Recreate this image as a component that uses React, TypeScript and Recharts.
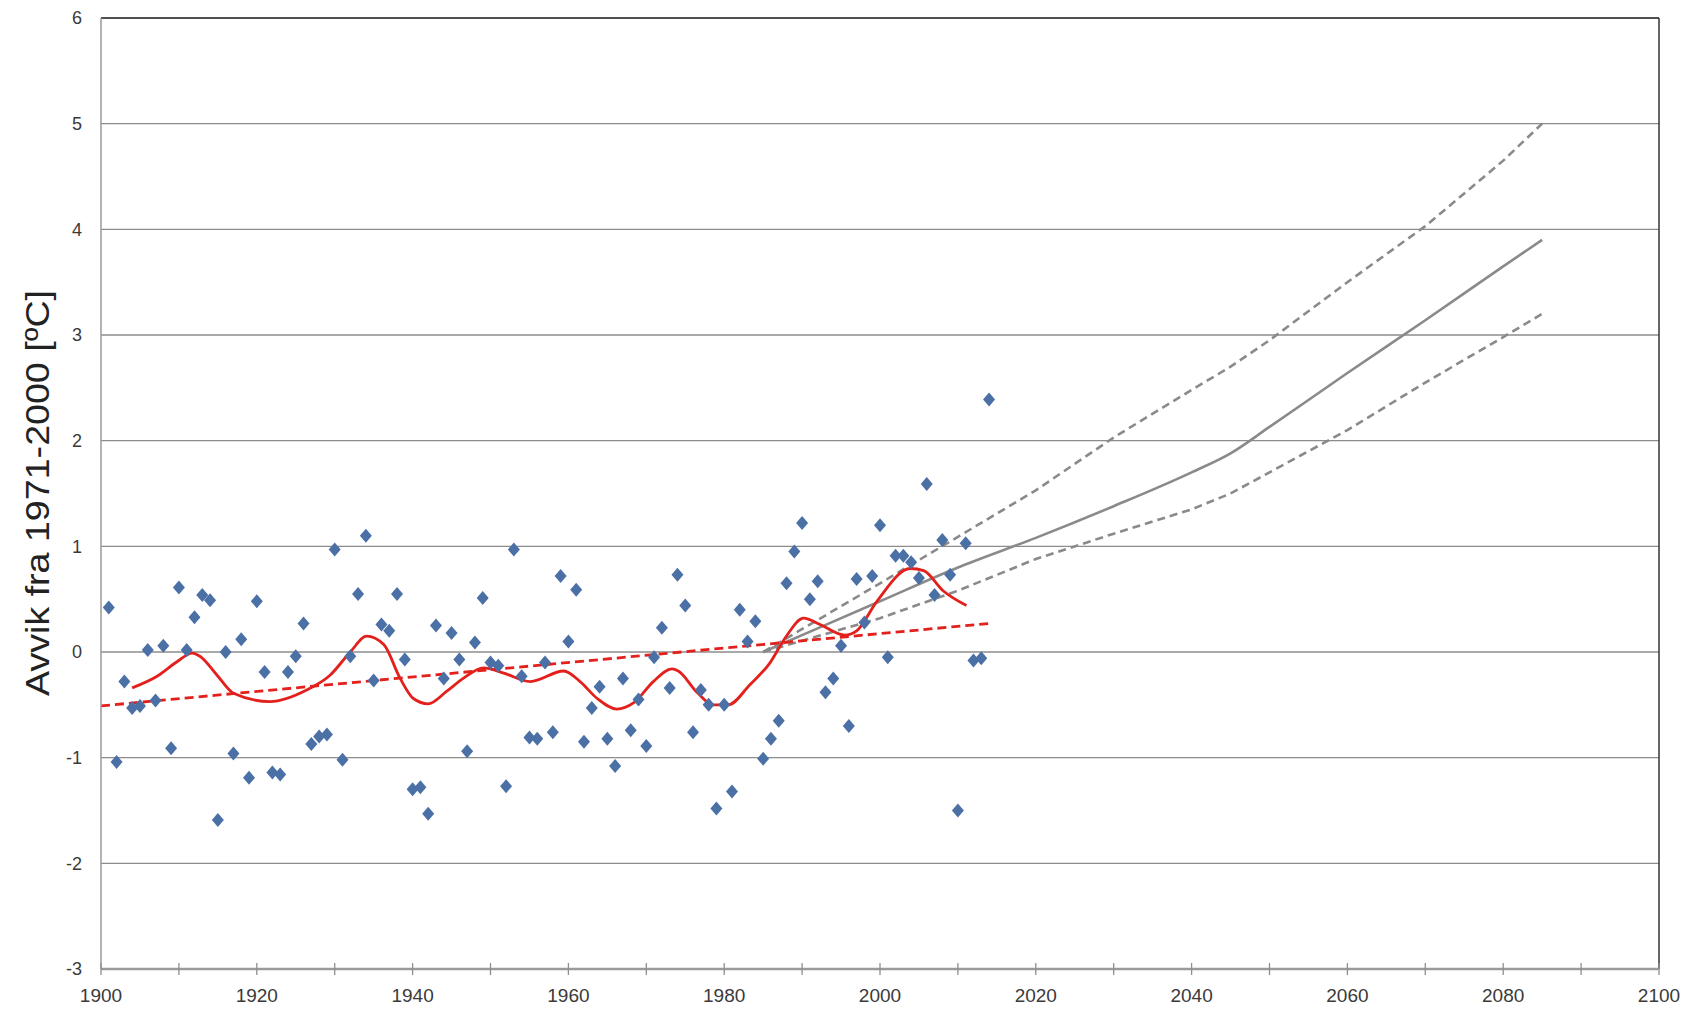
import React from 'react';
import {
  ComposedChart, Scatter, Line, XAxis, YAxis, CartesianGrid, ReferenceLine,
} from 'recharts';

// annual temperature anomaly, 1901-2014
const firstYear = 1901;
const anomaly = [
  0.42, -1.04, -0.28, -0.53, -0.51, 0.02, -0.46, 0.06, -0.91, 0.61,
  0.02, 0.33, 0.54, 0.49, -1.59, 0.0, -0.96, 0.12, -1.19, 0.48,
  -0.19, -1.14, -1.16, -0.19, -0.04, 0.27, -0.87, -0.8, -0.78, 0.97,
  -1.02, -0.04, 0.55, 1.1, -0.27, 0.26, 0.2, 0.55, -0.07, -1.3,
  -1.28, -1.53, 0.25, -0.25, 0.18, -0.07, -0.94, 0.09, 0.51, -0.1,
  -0.13, -1.27, 0.97, -0.23, -0.81, -0.82, -0.1, -0.76, 0.72, 0.1,
  0.59, -0.85, -0.53, -0.33, -0.82, -1.08, -0.25, -0.74, -0.45, -0.89,
  -0.05, 0.23, -0.34, 0.73, 0.44, -0.76, -0.36, -0.5, -1.48, -0.5,
  -1.32, 0.4, 0.1, 0.29, -1.01, -0.82, -0.65, 0.65, 0.95, 1.22,
  0.5, 0.67, -0.38, -0.25, 0.06, -0.7, 0.69, 0.28, 0.72, 1.2,
  -0.05, 0.91, 0.91, 0.85, 0.7, 1.59, 0.54, 1.06, 0.73, -1.5,
  1.03, -0.08, -0.06, 2.39,
];

// smoothed curve
const smoothYears = [
  1904, 1907.2, 1909.8, 1911.7, 1912.7, 1914.9, 1917, 1921.7, 1926.4, 1929.4,
  1932, 1934.1, 1936.3, 1938.4, 1940.1, 1942, 1944.4, 1946.5, 1949.1, 1951.7,
  1955.1, 1959.4, 1961.5, 1963.7, 1966.2, 1968.4, 1970.9, 1973.3, 1974.1, 1976.5,
  1978.6, 1980.5, 1983.3, 1985.9, 1987.8, 1990.2, 1992.3, 1995.5, 1997, 1999.6,
  2003.9, 2005.6, 2008.1, 2011.1,
];
const smoothValues = [
  -0.34, -0.23, -0.09, -0.01, -0.04, -0.22, -0.39, -0.47, -0.36, -0.22,
  0.0, 0.15, 0.07, -0.25, -0.44, -0.49, -0.37, -0.25, -0.15, -0.2,
  -0.28, -0.18, -0.28, -0.44, -0.54, -0.48, -0.28, -0.16, -0.18, -0.38,
  -0.5, -0.5, -0.31, -0.1, 0.13, 0.32, 0.26, 0.16, 0.2, 0.48,
  0.79, 0.77, 0.58, 0.44,
];

// linear trend
const trendYears = [1900, 2014];
const trendValues = [-0.51, 0.27];

// projections
const projYears = [1985, 2000, 2010, 2020, 2030, 2040, 2045, 2050, 2060, 2070, 2080, 2085];
const projMid = [0, 0.48, 0.8, 1.08, 1.38, 1.7, 1.88, 2.13, 2.64, 3.14, 3.65, 3.9];
const projHigh = [0, 0.65, 1.09, 1.53, 2.03, 2.48, 2.7, 2.95, 3.5, 4.03, 4.65, 5.0];
const projLow = [0, 0.32, 0.58, 0.88, 1.12, 1.35, 1.5, 1.7, 2.1, 2.55, 2.98, 3.2];

const xTicks = [1900, 1910, 1920, 1930, 1940, 1950, 1960, 1970, 1980, 1990, 2000,
  2010, 2020, 2030, 2040, 2050, 2060, 2070, 2080, 2090, 2100];
const yTicks = [-3, -2, -1, 0, 1, 2, 3, 4, 5, 6];

const scatterData = anomaly.map((v, i) => ({ year: firstYear + i, obs: v }));
const smoothData = smoothYears.map((y, i) => ({ year: y, smooth: smoothValues[i] }));
const trendData = trendYears.map((y, i) => ({ year: y, trend: trendValues[i] }));
const projData = projYears.map((y, i) => ({
  year: y, mid: projMid[i], high: projHigh[i], low: projLow[i],
}));

const font = "'Liberation Sans', Arial, sans-serif";
const X_TICK_GAP = 20;

const Diamond = (props: any) => {
  const { cx, cy } = props;
  if (cx == null || cy == null) return null;
  return (
    <polygon
      points={`${cx},${cy - 7} ${cx + 6},${cy} ${cx},${cy + 7} ${cx - 6},${cy}`}
      fill="#4a70a6"
    />
  );
};

// cross-style tick mark, label every 20 years
const XTick = (props: any) => {
  const { x, y, payload } = props;
  const axisY = y - X_TICK_GAP;
  const v = payload.value;
  return (
    <g>
      <line x1={x} x2={x} y1={axisY - 6} y2={axisY + 6} stroke="#8f8f8f" strokeWidth={1.3} />
      {v % 20 === 0 && (
        <text
          x={x}
          y={y}
          dy="0.71em"
          textAnchor="middle"
          fontSize={19}
          fontFamily={font}
          fill="#3a3a3a"
        >
          {v}
        </text>
      )}
    </g>
  );
};

const YLabel = () => (
  <text
    x={49}
    y={493}
    transform="rotate(-90 49 493)"
    textAnchor="middle"
    fontFamily="'Liberation Sans Narrow', 'Liberation Sans', Arial, sans-serif"
    fontSize={34}
    fill="#222"
    textLength={406}
    lengthAdjust="spacingAndGlyphs"
  >
    Avvik fra 1971-2000 [ºC]
  </text>
);

export default function App() {
  return (
    <div style={{ position: 'absolute', left: 0, top: 0, background: '#fff' }}>
      <ComposedChart
        width={1697}
        height={1010}
        margin={{ top: 18, right: 38, bottom: 0, left: 41 }}
      >
        <CartesianGrid vertical={false} stroke="#8c8c8c" strokeWidth={1.3} />
        <XAxis
          type="number"
          dataKey="year"
          domain={[1900, 2100]}
          ticks={xTicks}
          interval={0}
          height={41}
          allowDataOverflow
          axisLine={{ stroke: '#9a9a9a', strokeWidth: 2.5 }}
          tickLine={false}
          tickSize={6}
          tickMargin={X_TICK_GAP - 6}
          tick={<XTick />}
        />
        <YAxis
          type="number"
          domain={[-3, 6]}
          ticks={yTicks}
          interval={0}
          width={60}
          allowDataOverflow
          axisLine={{ stroke: '#9a9a9a', strokeWidth: 1.5 }}
          tickLine={false}
          tickMargin={13}
          tick={{ fontSize: 18, fill: '#3a3a3a', fontFamily: font }}
          label={<YLabel />}
        />
        <ReferenceLine y={6} stroke="#333" strokeWidth={1.5} />
        <ReferenceLine x={2100} stroke="#333" strokeWidth={1.5} />
        <Scatter
          data={scatterData}
          dataKey="obs"
          shape={<Diamond />}
          isAnimationActive={false}
        />
        <Line
          data={projData}
          dataKey="high"
          type="linear"
          stroke="#8a8a8a"
          strokeWidth={2.6}
          strokeDasharray="8 5"
          dot={false}
          isAnimationActive={false}
        />
        <Line
          data={projData}
          dataKey="low"
          type="linear"
          stroke="#8a8a8a"
          strokeWidth={2.6}
          strokeDasharray="8 5"
          dot={false}
          isAnimationActive={false}
        />
        <Line
          data={projData}
          dataKey="mid"
          type="monotone"
          stroke="#8a8a8a"
          strokeWidth={2.6}
          dot={false}
          isAnimationActive={false}
        />
        <Line
          data={trendData}
          dataKey="trend"
          type="linear"
          stroke="#e3201c"
          strokeWidth={2.8}
          strokeDasharray="9 5"
          dot={false}
          isAnimationActive={false}
        />
        <Line
          data={smoothData}
          dataKey="smooth"
          type="monotone"
          stroke="#e3201c"
          strokeWidth={2.8}
          dot={false}
          isAnimationActive={false}
        />
      </ComposedChart>
    </div>
  );
}
